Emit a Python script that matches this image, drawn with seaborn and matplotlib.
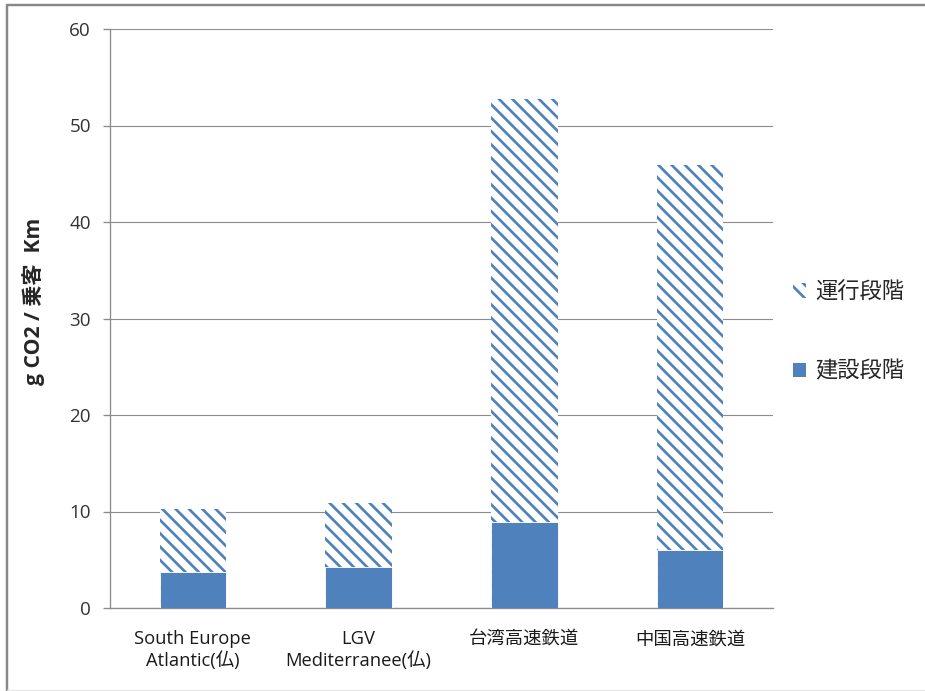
import matplotlib
matplotlib.use("Agg")
import matplotlib.pyplot as plt
from matplotlib.patches import Patch
from matplotlib.lines import Line2D
import seaborn as sns
import numpy as np
import pandas as pd

# Life-cycle CO2 emissions of high-speed rail lines (g CO2 per passenger-km)
categories = ["South Europe\nAtlantic(仏)", "LGV\nMediterranee(仏)", "台湾高速鉄道", "中国高速鉄道"]
construction = [3.7, 4.2, 8.9, 6.0]   # 建設段階
operation = [6.6, 6.7, 43.8, 39.9]    # 運行段階
y_ticks = [0, 10, 20, 30, 40, 50, 60]
series_labels = ["運行段階", "建設段階"]

BLUE = "#4F81BD"
GRID = "#8C8C8C"
AXIS = "#8C8C8C"
FONTS = ["Open Sans", "Noto Sans CJK JP", "DejaVu Sans"]

sns.set_theme(style="white")
plt.rcParams["font.family"] = FONTS
plt.rcParams["hatch.linewidth"] = 2.4

DPI = 80
fig = plt.figure(figsize=(925 / DPI, 691 / DPI), dpi=DPI)
ax = fig.add_axes([110 / 925, 1 - 608 / 691, (773 - 110) / 925, (608 - 29) / 691])

df = pd.DataFrame({
    "line": categories,
    "construction": construction,
    "total": np.array(construction) + np.array(operation),
})

# stacked bars: full height hatched, construction drawn over the lower part
sns.barplot(data=df, x="line", y="total", color="white", saturation=1,
            edgecolor=BLUE, hatch="\\\\", linewidth=0, width=0.4, ax=ax, zorder=3)
sns.barplot(data=df, x="line", y="construction", color=BLUE, saturation=1,
            edgecolor="white", linewidth=0.8, width=0.4, ax=ax, zorder=4)

ax.set_ylim(0, 60)
ax.set_xlim(-0.5, len(categories) - 0.5)
ax.set_yticks(y_ticks)
ax.yaxis.grid(True, color=GRID, linewidth=1.0, zorder=0)
ax.set_axisbelow(True)

for side in ["top", "right"]:
    ax.spines[side].set_visible(False)
for side in ["left", "bottom"]:
    ax.spines[side].set_color(AXIS)
    ax.spines[side].set_linewidth(1.2)

ax.set_xticks(range(len(categories)))
ax.set_xticklabels(categories, fontsize=16.5, color="#1a1a1a", linespacing=1.2)
ax.set_xticks(np.arange(-0.5, len(categories)), minor=True)
ax.tick_params(axis="x", which="major", length=0, pad=20)
ax.tick_params(axis="x", which="minor", length=6, color=AXIS, width=1.2, direction="out")
ax.tick_params(axis="y", length=6, color=AXIS, width=1.2, direction="out",
               labelsize=17, labelcolor="#333333", pad=11, left=True)

ax.set_xlabel("")
ax.set_ylabel("g CO2 / 乗客  Km", fontsize=19, fontweight="bold")
ax.yaxis.set_label_coords(-65 / 663, (608 - 301) / 579)

handles = [
    Patch(facecolor="white", edgecolor=BLUE, hatch="\\\\", linewidth=0),
    Patch(facecolor=BLUE, edgecolor=BLUE, linewidth=0),
]
fig.legend(handles, series_labels, loc="upper left", bbox_to_anchor=(782 / 925, 1 - 271 / 691),
           frameon=False, fontsize=20, handlelength=0.6, handleheight=0.6,
           handletextpad=0.4, labelspacing=2.62, borderpad=0)

# outer chart frame
fig.add_artist(Line2D([7 / 925, 1], [1 - 4.5 / 691] * 2, color="#888888", lw=2.2,
                      transform=fig.transFigure))
fig.add_artist(Line2D([7 / 925] * 2, [0, 1 - 4.5 / 691], color="#888888", lw=2.2,
                      transform=fig.transFigure))
fig.add_artist(Line2D([7 / 925, 1], [1.5 / 691] * 2, color="#e6e6e6", lw=1.2,
                      transform=fig.transFigure))

fig.savefig("out.png", dpi=DPI, facecolor="white")
